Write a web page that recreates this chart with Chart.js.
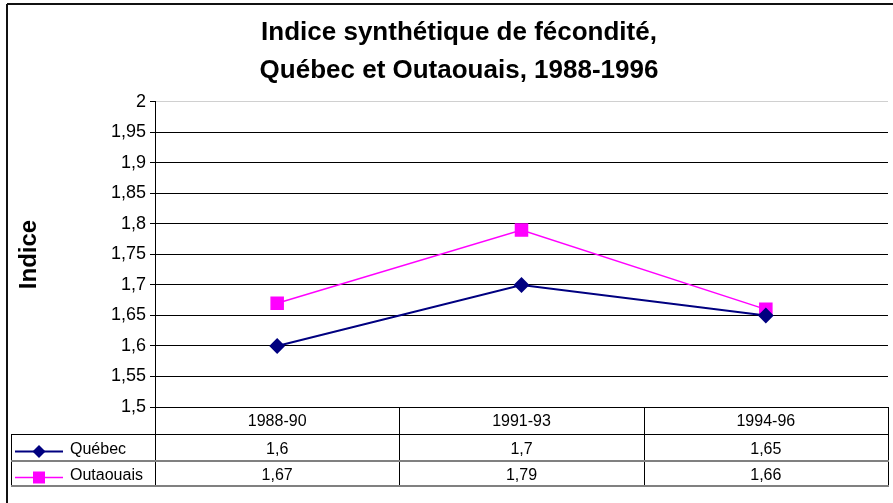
<!DOCTYPE html>
<html>
<head>
<meta charset="utf-8">
<script src="https://cdn.jsdelivr.net/npm/chart.js@4/dist/chart.umd.min.js"></script>
<style>
  body { margin: 0; background: #fff; }
  canvas { display: block; }
</style>
</head>
<body>
<canvas id="fecondite" width="893" height="503"></canvas>
<script>
const periods = ['1988-90', '1991-93', '1994-96'];
const quebec = [1.6, 1.7, 1.65];
const outaouais = [1.67, 1.79, 1.66];
const seriesNames = ['Québec', 'Outaouais'];
const titleLines = ['Indice synthétique de fécondité,', 'Québec et Outaouais, 1988-1996'];

const fmt = v => String(Math.round(v * 100) / 100).replace('.', ',');

// table under the plot, like the Excel data table
const dataTable = {
  id: 'dataTable',
  beforeDraw(chart) {
    const ctx = chart.ctx;
    ctx.save();
    ctx.strokeStyle = '#111';
    ctx.lineWidth = 2;
    ctx.beginPath();
    ctx.moveTo(7, 4); ctx.lineTo(893, 4);
    ctx.moveTo(7, 4); ctx.lineTo(7, 503);
    ctx.stroke();
    ctx.restore();
  },
  afterDraw(chart) {
    const ctx = chart.ctx;
    const area = chart.chartArea;
    const x = chart.scales.x;
    const n = chart.data.labels.length;
    const w = (area.right - area.left) / n;
    const rowTop = area.bottom, row1 = 434, row2 = 461, row3 = 486;
    const keyLeft = 11;

    ctx.save();
    ctx.lineWidth = 1;
    // black lines
    ctx.strokeStyle = '#000';
    ctx.beginPath();
    ctx.moveTo(keyLeft, row1 + 0.5); ctx.lineTo(area.right + 1, row1 + 0.5);
    ctx.moveTo(keyLeft + 0.5, row1); ctx.lineTo(keyLeft + 0.5, row3);
    for (let i = 0; i <= n; i++) {
      const px = Math.round(area.left + i * w) + 0.5;
      ctx.moveTo(px, rowTop); ctx.lineTo(px, row3);
    }
    ctx.stroke();
    // grey lines
    ctx.strokeStyle = '#808080';
    ctx.lineWidth = 2;
    ctx.beginPath();
    ctx.moveTo(keyLeft, row2); ctx.lineTo(area.right + 1, row2);
    ctx.moveTo(keyLeft, row3); ctx.lineTo(area.right + 1, row3);
    ctx.stroke();

    ctx.fillStyle = '#000';
    ctx.font = '16px "Liberation Sans", Arial, sans-serif';
    ctx.textAlign = 'center';
    ctx.textBaseline = 'middle';
    chart.data.labels.forEach((lab, i) => {
      const cx = x.getPixelForValue(i);
      ctx.fillText(lab, cx, (rowTop + row1) / 2 + 1);
    });

    const rows = [[row1, row2], [row2, row3]];
    chart.data.datasets.forEach((ds, d) => {
      const cy = (rows[d][0] + rows[d][1]) / 2 + 2;
      ds.data.forEach((v, i) => {
        ctx.fillStyle = '#000';
        ctx.textAlign = 'center';
        ctx.fillText(fmt(v), x.getPixelForValue(i), cy);
      });
      // legend key
      ctx.strokeStyle = ds.borderColor;
      ctx.lineWidth = ds.borderWidth;
      ctx.beginPath();
      ctx.moveTo(15, cy + 2); ctx.lineTo(63, cy + 2);
      ctx.stroke();
      ctx.fillStyle = ds.pointBackgroundColor;
      ctx.beginPath();
      if (ds.pointStyle === 'rectRot') {
        ctx.moveTo(39, cy + 2 - 6.5); ctx.lineTo(45.5, cy + 2);
        ctx.lineTo(39, cy + 2 + 6.5); ctx.lineTo(32.5, cy + 2);
        ctx.closePath();
      } else {
        ctx.rect(33, cy + 2 - 6, 12, 12);
      }
      ctx.fill();
      ctx.fillStyle = '#000';
      ctx.textAlign = 'left';
      ctx.fillText(ds.label, 70, cy);
    });
    ctx.restore();
  }
};

new Chart(document.getElementById('fecondite'), {
  type: 'line',
  data: {
    labels: periods,
    datasets: [{
      label: seriesNames[0],
      data: quebec,
      borderColor: '#000080',
      backgroundColor: '#000080',
      pointBackgroundColor: '#000080',
      pointBorderColor: '#000080',
      borderWidth: 2,
      pointStyle: 'rectRot',
      pointRadius: 6.5,
      tension: 0
    }, {
      label: seriesNames[1],
      data: outaouais,
      borderColor: '#FF00FF',
      backgroundColor: '#FF00FF',
      pointBackgroundColor: '#FF00FF',
      pointBorderColor: '#FF00FF',
      borderWidth: 1.5,
      pointStyle: 'rect',
      pointRadius: 8.5,
      tension: 0
    }]
  },
  options: {
    responsive: false,
    animation: false,
    layout: { autoPadding: false, padding: { left: 30, right: 5, top: 0, bottom: 96 } },
    plugins: {
      legend: { display: false },
      tooltip: { enabled: false },
      title: {
        display: true,
        text: titleLines,
        color: '#000',
        font: { family: '"Liberation Sans", Arial, sans-serif', size: 26, weight: 'bold', lineHeight: 1.46 },
        padding: { top: 14, bottom: 12 }
      }
    },
    scales: {
      x: {
        display: false,
        offset: true
      },
      y: {
        min: 1.5,
        max: 2,
        afterFit: (scale) => { scale.width = 125; },
        ticks: {
          stepSize: 0.05,
          color: '#000',
          padding: 4,
          font: { family: '"Liberation Sans", Arial, sans-serif', size: 18 },
          callback: v => fmt(v)
        },
        grid: {
          color: c => (c.tick && Math.abs(c.tick.value - 2) < 1e-6) ? '#d0d0d0' : '#000',
          tickColor: '#000',
          tickLength: 5,
          lineWidth: 1
        },
        border: { color: '#000', width: 1 },
        title: {
          display: true,
          text: 'Indice',
          color: '#000',
          padding: { top: -15 },
          font: { family: '"Liberation Sans", Arial, sans-serif', size: 24, weight: 'bold' }
        }
      }
    }
  },
  plugins: [dataTable]
});
</script>
</body>
</html>
